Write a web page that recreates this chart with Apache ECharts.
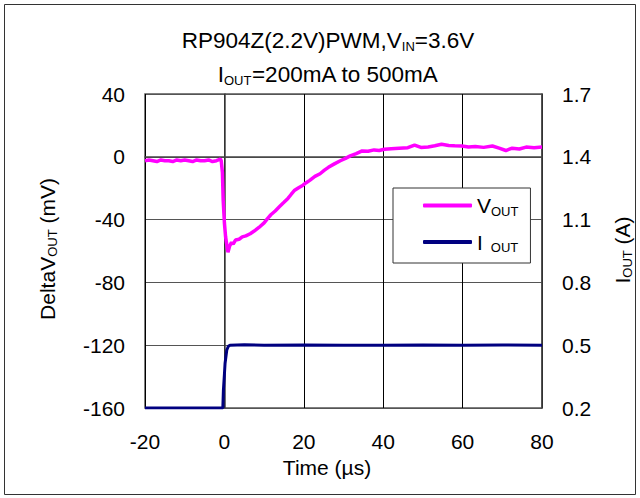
<!DOCTYPE html>
<html><head><meta charset="utf-8">
<script src="https://cdn.jsdelivr.net/npm/echarts@6/dist/echarts.min.js"></script>
<style>html,body{margin:0;padding:0;background:#fff}#c{width:640px;height:498px}</style>
</head><body><div id="c"></div>
<script>
var xTicks = [-20, 0, 20, 40, 60, 80];
var leftTicks = [-160, -120, -80, -40, 0, 40];
var rightTicks = [0.2, 0.5, 0.8, 1.1, 1.4, 1.7];

var timeV = [-20,-19,-18,-17,-16,-15,-14,-13,-12,-11,-10,-9,-8,-7,-6,-5,-4,-3,-2,-1,
  -0.8,-0.5,-0.3,0,0.3,0.6,0.9,1.3,1.8,2.2,
  2.8,3.7,4.5,5.4,6.5,7.5,8.7,10,10.8,11.7,
  12.8,13.9,15,16,16.8,17.7,18.8,19.8,20.6,21.5,
  22.8,24.1,25.2,26.2,27.7,29.2,30.5,31.7,33.2,34.7,
  36.2,37.7,39,40.3,42,44,46.2,47.9,49.5,51.3,
  53,54.7,56.5,58,59.8,61.5,63.2,65.3,67.5,69.2,
  70.9,72.5,74.3,76,78,80];
var vout = [-2.5,-2,-2.5,-3,-2,-2.5,-2.5,-3,-2,-2.5,-2,-2.5,-3,-2,-2.5,-2.5,-2,-3,-2.5,-1.5,
  -2.5,-10,-28,-42,-51,-56,-60.8,-57,-54.5,-55.6,
  -53,-52.5,-51,-50.4,-49,-47.3,-45,-42.1,-39.5,-36.9,
  -34.5,-31.7,-29,-26.5,-24,-21.3,-19.5,-18.1,-16.5,-15,
  -12.5,-10.8,-8.5,-6.7,-4.5,-2.5,-1,0.6,2,3.75,
  3.5,4.4,4,4.8,5.2,5.5,5.8,7.5,6,6.3,
  7,8,7.2,7,6.9,6.2,6.5,6,6.9,5.5,
  4,5.5,5,6.2,5.8,6.2];

var timeI = [-20,-10,-0.4,-0.25,0,0.17,0.6,1,1.4,5,10,20,30,40,50,60,70,80];
var iout  = [0.2,0.2,0.2,0.286,0.36,0.414,0.477,0.495,0.5,0.502,0.5,0.501,0.5,0.5,0.501,0.5,0.501,0.5];

var FONT = '"Liberation Sans", Arial, sans-serif';
var rich = {
  a: {fontSize: 21, fontFamily: FONT, color: '#000', lineHeight: 24},
  t: {fontSize: 22.5, fontFamily: FONT, color: '#000', lineHeight: 25},
  s: {fontSize: 13, fontFamily: FONT, color: '#000', lineHeight: 12, verticalAlign: 'bottom'},
  g: {fontSize: 21, fontFamily: FONT, lineHeight: 24, width: 8}
};

var chart = echarts.init(document.getElementById('c'), null, {renderer: 'svg'});
chart.setOption({
  animation: false,
  backgroundColor: '#fff',
  grid: {left: 145, right: 98, top: 94, bottom: 90, show: true, borderColor: '#555', borderWidth: 1.5, backgroundColor: 'transparent'},
  legend: {
    orient: 'vertical', left: 393, top: 188,
    padding: [7, 12, 9, 30], itemGap: 14, itemWidth: 49, itemHeight: 4,
    borderColor: '#333', borderWidth: 1, backgroundColor: '#fff',
    data: [{name: 'Vout', icon: 'roundRect'}, {name: 'Iout', icon: 'roundRect'}],
    formatter: function (n) { return n === 'Vout' ? '{a|V}{s|OUT}' : '{a|I}{g|}{s|OUT}'; },
    textStyle: {rich: rich}
  },
  xAxis: {
    type: 'value', min: xTicks[0], max: xTicks[xTicks.length - 1], interval: 20,
    axisLine: {lineStyle: {color: '#444', width: 1.5}},
    axisTick: {show: false},
    axisLabel: {margin: 23, fontSize: 21, fontFamily: FONT, color: '#000'},
    splitLine: {show: true, lineStyle: {color: '#000', width: 1}}
  },
  yAxis: [{
    type: 'value', min: leftTicks[0], max: leftTicks[leftTicks.length - 1], interval: 40,
    axisLine: {show: true, lineStyle: {color: '#444', width: 1.5}},
    axisTick: {show: false},
    axisLabel: {margin: 20, fontSize: 21, fontFamily: FONT, color: '#000'},
    splitLine: {show: true, lineStyle: {color: '#555', width: 1}}
  }, {
    type: 'value', min: rightTicks[0], max: rightTicks[rightTicks.length - 1], alignTicks: true,
    position: 'right',
    axisLine: {show: true, lineStyle: {color: '#444', width: 1.5}},
    axisTick: {show: false},
    axisLabel: {margin: 20, fontSize: 21, fontFamily: FONT, color: '#000', formatter: function (v) { return (+v).toFixed(1); }},
    splitLine: {show: false}
  }],
  series: [{
    name: 'Vout', type: 'line', yAxisIndex: 0, symbol: 'none', showSymbol: false,
    data: timeV.map(function (t, i) { return [t, vout[i]]; }),
    lineStyle: {color: '#FF00FF', width: 3.5}, itemStyle: {color: '#FF00FF'}
  }, {
    name: 'Iout', type: 'line', yAxisIndex: 1, symbol: 'none', showSymbol: false,
    data: timeI.map(function (t, i) { return [t, iout[i]]; }),
    lineStyle: {color: '#000080', width: 3}, itemStyle: {color: '#000080'}
  }],
  graphic: [
    {type: 'rect', shape: {x: 4.5, y: 4.5, width: 631, height: 490}, style: {fill: 'none', stroke: '#333', lineWidth: 1}, silent: true},
    {type: 'text', x: 328, y: 40, style: {text: '{t|RP904Z(2.2V)PWM,V}{s|IN}{t|=3.6V}', rich: rich, align: 'center', verticalAlign: 'middle'}},
    {type: 'text', x: 328, y: 74, style: {text: '{t|I}{s|OUT}{t|=200mA to 500mA}', rich: rich, align: 'center', verticalAlign: 'middle'}},
    {type: 'text', x: 327, y: 467, style: {text: '{a|Time (µs)}', rich: rich, align: 'center', verticalAlign: 'middle'}},
    {type: 'text', x: 47, y: 249, rotation: Math.PI / 2, style: {text: '{a|DeltaV}{s|OUT}{a| (mV)}', rich: rich, align: 'center', verticalAlign: 'middle'}},
    {type: 'text', x: 622, y: 250, rotation: Math.PI / 2, style: {text: '{a|I}{s|OUT}{a| (A)}', rich: rich, align: 'center', verticalAlign: 'middle'}}
  ]
});
</script></body></html>
